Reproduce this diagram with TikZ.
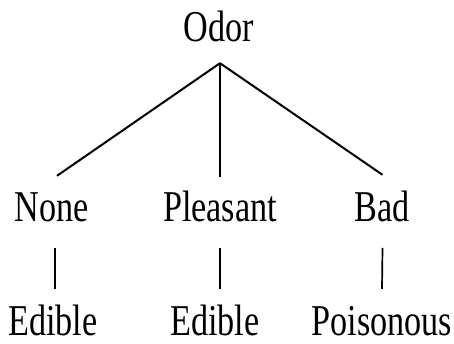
\documentclass[tikz,border=0pt]{standalone}
\usepackage{fontspec}
\setmainfont{Liberation Serif}[FakeStretch=0.777]
\begin{document}
\begin{tikzpicture}[x=1pt,y=1pt,
  lbl/.style={font=\fontsize{44}{50}\selectfont, text height=29pt, text depth=0pt, inner sep=0pt, anchor=base},
  edge/.style={line width=2pt, line cap=butt},
  stem/.style={line width=1.7pt}]
\useasboundingbox (0,0) rectangle (454,344);
\node[lbl] (odor) at (219,302) {Odor};
\node[lbl] (none) at (52,122) {None};
\node[lbl] (pleasant) at (220,122) {Pleasant};
\node[lbl] (bad) at (382.5,122) {Bad};
\node[lbl] (e1) at (53,8) {Edible};
\node[lbl] (e2) at (215,8) {Edible};
\node[lbl] (pois) at (382,8) {Poisonous};
\coordinate (apex) at ([yshift=-21pt]odor.south -| 220,0);
\draw[edge] (apex) -- ([xshift=5pt,yshift=17pt]none.north);
\draw[edge] (apex) -- ([yshift=16pt]pleasant.north);
\draw[edge] (apex) -- ([yshift=18pt]bad.north);
\draw[stem] ([xshift=3pt,yshift=-26pt]none.base) -- ([xshift=2pt,yshift=18pt]e1.north);
\draw[stem] ([yshift=-26pt]pleasant.base) -- ([xshift=5pt,yshift=18pt]e2.north);
\draw[stem] ([yshift=-26pt]bad.base) -- ([yshift=18pt]pois.north);
\end{tikzpicture}
\end{document}
